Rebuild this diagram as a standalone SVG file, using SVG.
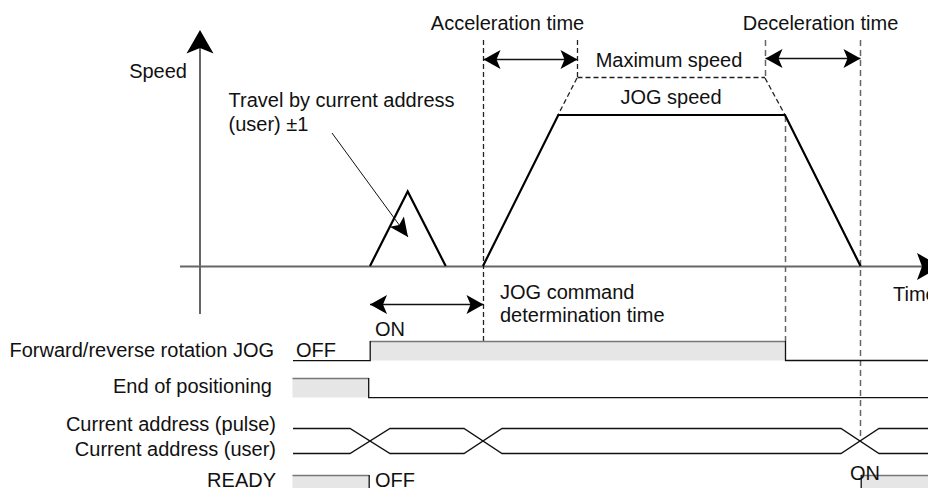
<svg xmlns="http://www.w3.org/2000/svg" width="928" height="488" viewBox="0 0 928 488">
<style>
text{font-family:"Liberation Sans",Arial,sans-serif;font-size:20px;fill:#111}
.axis{stroke:#111;stroke-width:1.3;fill:none}
.taxis{stroke:#666;stroke-width:1.8;fill:none}
.bold{stroke:#000;stroke-width:2.2;fill:none;stroke-linejoin:miter}
.thin{stroke:#111;stroke-width:1.3;fill:none}
.dk{stroke:#222;stroke-width:1.3;stroke-dasharray:5,3;fill:none}
.gr{stroke:#666;stroke-width:1.5;stroke-dasharray:6,4;fill:none}
.hi{fill:#e6e6e6;stroke:none}
.edge{stroke:#777;stroke-width:1.5;fill:none}
.dbl{stroke:#111;stroke-width:1.3;fill:none;marker-start:url(#ah);marker-end:url(#ah)}
</style>
<defs>
<marker id="ah" markerUnits="userSpaceOnUse" viewBox="-18 -10 19 20" refX="0" refY="0" markerWidth="19" markerHeight="20" orient="auto-start-reverse">
<path d="M0,0 L-17,-9.5 L-13,0 L-17,9.5 Z" fill="#000"/>
</marker>
<marker id="ah2" markerUnits="userSpaceOnUse" viewBox="-20 -10 21 20" refX="0" refY="0" markerWidth="21" markerHeight="20" orient="auto">
<path d="M0,0 L-19,-8.8 L-15,0 L-19,8.8 Z" fill="#000"/>
</marker>
</defs>

<g id="axes">
<line class="axis" x1="200" y1="48" x2="200" y2="314"/>
<path d="M200,30 L213.5,53.5 L200,48 L186.5,53.5 Z" fill="#000"/>
<line class="taxis" x1="180" y1="266.5" x2="925" y2="266.5"/>
<path d="M941,266.5 L917,280 L922,266.5 L917,253 Z" fill="#000"/>
<text x="187" y="78" text-anchor="end">Speed</text>
<text x="893" y="301">Time</text>
</g>

<g id="guides">
<line class="dk" x1="483.5" y1="40" x2="483.5" y2="341"/>
<line class="dk" x1="577.5" y1="40" x2="577.5" y2="77"/>
<line class="dk" x1="577.5" y1="77.5" x2="765" y2="77.5"/>
<line class="gr" x1="765.5" y1="40" x2="765.5" y2="77"/>
<line class="dk" x1="577" y1="78" x2="558" y2="115"/>
<line class="dk" x1="765" y1="78" x2="785" y2="115"/>
<line class="gr" x1="785.5" y1="116" x2="785.5" y2="341"/>
<line class="gr" x1="860.5" y1="40" x2="860.5" y2="441"/>
</g>

<g id="speed-profile">
<polyline class="bold" points="370,266 407.7,191.5 445.7,266"/>
<polyline class="bold" points="483,266 558.3,115 785,115 860.5,266"/>
</g>

<g id="connectors">
<line class="dbl" x1="483.5" y1="59.5" x2="577.5" y2="59.5"/>
<line class="dbl" x1="765.5" y1="58.5" x2="860.5" y2="58.5"/>
<line class="dbl" x1="370" y1="304.5" x2="483.5" y2="304.5"/>
<line class="thin" x1="332" y1="133" x2="408" y2="237" style="stroke-width:1;marker-end:url(#ah2)"/>
</g>

<g id="labels">
<text x="507.5" y="30" text-anchor="middle">Acceleration time</text>
<text x="820.5" y="30" text-anchor="middle">Deceleration time</text>
<text x="669" y="67" text-anchor="middle">Maximum speed</text>
<text x="671" y="103.5" text-anchor="middle">JOG speed</text>
<text x="228.5" y="107">Travel by current address</text>
<text x="228.5" y="131">(user) ±1</text>
<text x="500" y="298.5">JOG command</text>
<text x="500" y="322">determination time</text>
</g>

<g id="signal-jog">
<text x="274" y="357" text-anchor="end">Forward/reverse rotation JOG</text>
<rect class="hi" x="370" y="341.5" width="415.5" height="19"/>
<line class="edge" x1="370" y1="341.5" x2="785.5" y2="341.5"/>
<polyline class="thin" points="293,360.7 370.2,360.7 370.2,341"/>
<polyline class="thin" points="785.5,341 785.5,360.5 928,360.5"/>
<text x="296" y="357">OFF</text>
<text x="375" y="336">ON</text>
</g>

<g id="signal-end">
<text x="272" y="393" text-anchor="end">End of positioning</text>
<rect class="hi" x="292.5" y="378.5" width="76.5" height="19"/>
<line class="edge" x1="292.5" y1="378.5" x2="369" y2="378.5"/>
<polyline class="thin" points="368.7,378 368.7,397.7 928,397.7"/>
</g>

<g id="signal-address">
<text x="276" y="431" text-anchor="end">Current address (pulse)</text>
<text x="276" y="456" text-anchor="end">Current address (user)</text>
<polyline class="thin" points="293,428.5 350,428.5 390,453.5 464,453.5 502,428.5 841,428.5 879,453.5 928,453.5"/>
<polyline class="thin" points="293,453.5 350,453.5 390,428.5 464,428.5 502,453.5 841,453.5 879,428.5 928,428.5"/>
</g>

<g id="signal-ready">
<text x="276" y="487" text-anchor="end">READY</text>
<rect class="hi" x="292.5" y="475.5" width="76.5" height="14"/>
<line class="edge" x1="292.5" y1="475.5" x2="369" y2="475.5"/>
<line class="thin" x1="369.2" y1="475" x2="369.2" y2="488"/>
<text x="375" y="487">OFF</text>
<rect class="hi" x="861" y="475.5" width="67" height="14"/>
<line class="edge" x1="861" y1="475.5" x2="928" y2="475.5"/>
<line class="thin" x1="861.2" y1="475" x2="861.2" y2="488"/>
<text x="850" y="479.5">ON</text>
</g>
</svg>
